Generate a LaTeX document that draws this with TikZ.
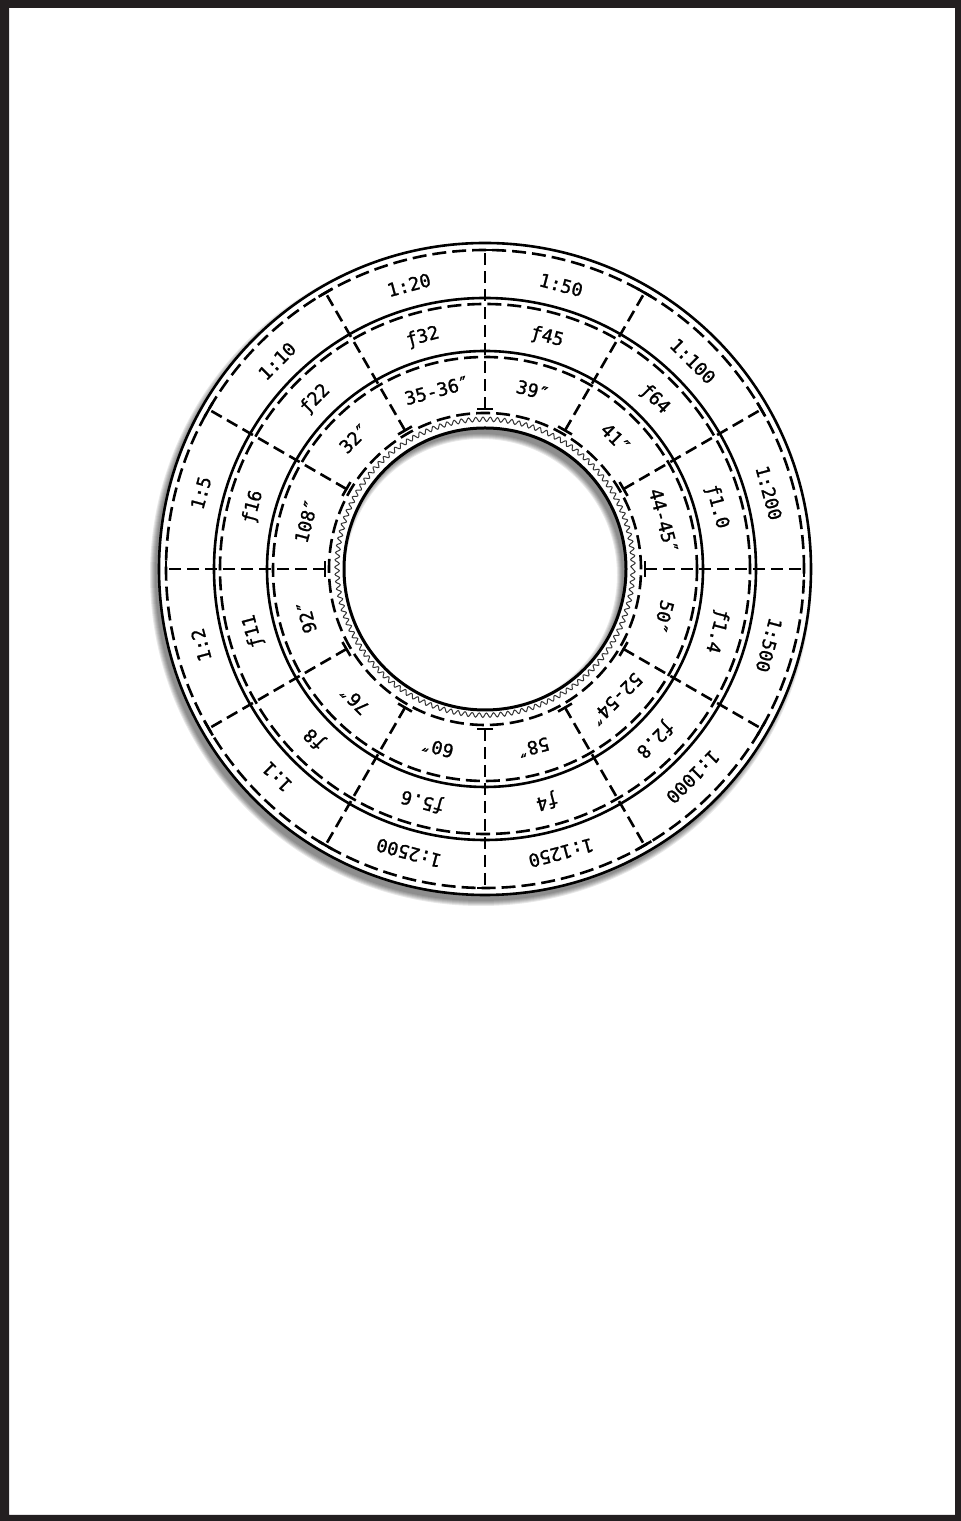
\documentclass[tikz,border=0pt]{standalone}
\usepackage{fontspec}
\newfontfamily\dialfont[FakeBold=1.2]{DejaVu Sans Mono}
\usetikzlibrary{decorations.pathmorphing}
\definecolor{framecol}{HTML}{231F20}
\begin{document}
\begin{tikzpicture}[x=0.5pt,y=0.5pt,
  solidring/.style={line width=1.3pt},
  dashring/.style={line width=1.3pt, dash pattern=on 7pt off 3pt},
  radial/.style={line width=1.3pt, dash pattern=on 6pt off 3pt},
  tbar/.style={line width=1.3pt},
  wavy/.style={line width=0.5pt, black!80, decorate, decoration={snake, amplitude=1.1pt, segment length=3.6pt}},
  lbl/.style={font=\dialfont\fontsize{9.2}{10}\selectfont, inner sep=0pt}]
\useasboundingbox (0,0) rectangle (961,1521);
\fill[white] (0,0) rectangle (961,1521);
\fill[framecol, even odd rule] (0,0) rectangle (961,1521) (9,6) rectangle (955,1513);
\begin{scope}[shift={(485,952)}]
  % shadow
  \foreach \k in {0,1,2,3,4,5} {
    \fill[black, opacity=0.09, even odd rule] (-4,-6) circle ({326+\k}) (-4,-6) circle ({141-\k});
  }
  \fill[white, even odd rule] (0,0) circle (326) (0,0) circle (141);
  % rings
  \draw[solidring] (0,0) circle (326);
  \draw[dashring] (0,0) circle (319);
  \draw[solidring] (0,0) circle (271);
  \draw[dashring] (0,0) circle (265);
  \draw[solidring] (0,0) circle (218);
  \draw[dashring] (0,0) circle (212);
  \draw[dashring] (0,0) circle (156);
  \draw[wavy] (0,0) circle (148);
  \draw[line width=1.5pt] (0,0) circle (141);
  % radial dividers
  \foreach \a in {0,30,...,330} {
    \draw[radial] (\a:160) -- (\a:319);
    \draw[tbar] (\a:160) ++(\a+90:8) -- ++(\a-90:16);
    \draw[tbar] (\a:319) ++(\a+90:8) -- ++(\a-90:16);
  }
  % outer ring labels
  \foreach \a/\t/\i in {105/1:20/1, 75/1:50/2, 45/1:100/3, 15/1:200/4, -15/1:500/5, -45/1:1000/6,
      -75/1:1250/7, -105/1:2500/8, -135/1:1/9, -165/1:2/10, 165/1:5/11, 135/1:10/12} {
    \node[lbl, rotate=\a-90] (o\i) at (\a:294) {\t};
  }
  % middle ring labels
  \foreach \a/\t/\i in {105/ƒ32/1, 75/ƒ45/2, 45/ƒ64/3, 15/ƒ1.0/4, -15/ƒ1.4/5, -45/ƒ2.8/6,
      -75/ƒ4/7, -105/ƒ5.6/8, -135/ƒ8/9, -165/ƒ11/10, 165/ƒ16/11, 135/ƒ22/12} {
    \node[lbl, rotate=\a-90] (m\i) at (\a:240) {\t};
  }
  % inner ring labels
  \foreach \a/\t/\i in {105/35-36″/1, 75/39″/2, 45/41″/3, 15/44-45″/4, -15/50″/5, -45/52-54″/6,
      -75/58″/7, -105/60″/8, -135/76″/9, -165/92″/10, 165/108″/11, 135/32″/12} {
    \node[lbl, rotate=\a-90] (n\i) at (\a:185) {\t};
  }
\end{scope}
\end{tikzpicture}
\end{document}
